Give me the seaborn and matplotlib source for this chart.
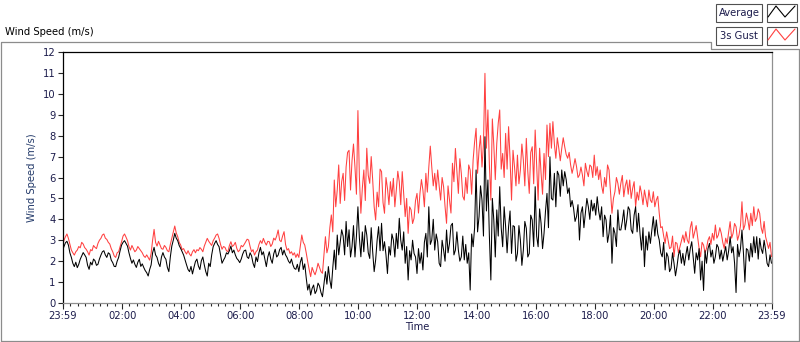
import numpy as np
import pandas as pd
import matplotlib
matplotlib.use("Agg")
import matplotlib.pyplot as plt
import matplotlib.dates as mdates
from matplotlib.lines import Line2D
from matplotlib.patches import Rectangle
import seaborn as sns

# ============================================================
# DATA
# readings on a 6-minute grid from 23:59 to 23:59 (one row per hour),
# plus the in-between readings 3 minutes later (*_MID)
# ============================================================
START = "2020-01-01 23:59"

GUST = [
    2.72, 3.17, 3.09, 2.53, 2.29, 2.53, 2.64, 2.82, 2.57, 2.29,
    2.50, 2.66, 2.85, 3.09, 3.30, 3.04, 2.82, 2.45, 2.18, 2.45,
    2.93, 3.30, 2.98, 2.53, 2.60, 2.53, 2.60, 2.40, 2.18, 2.18,
    2.37, 3.52, 2.72, 2.77, 2.57, 2.66, 2.45, 3.09, 3.68, 3.17,
    2.77, 2.60, 2.34, 2.34, 2.45, 2.40, 2.50, 2.57, 2.72, 3.09,
    2.85, 2.98, 3.25, 3.09, 2.57, 2.66, 2.45, 2.93, 2.77, 2.61,
    2.53, 2.69, 2.93, 3.01, 2.45, 2.29, 2.53, 2.98, 3.09, 2.77,
    2.93, 2.82, 3.01, 3.49, 2.93, 3.41, 2.53, 2.37, 2.29, 2.18,
    2.18, 3.25, 2.77, 1.98, 1.26, 1.50, 1.58, 1.70, 1.42, 3.17,
    2.69, 4.21, 5.88, 5.40, 4.76, 6.20, 6.50, 7.30, 6.80, 6.50,
    9.20, 4.29, 6.36, 7.40, 5.72, 5.88, 3.97, 4.60, 6.28, 4.29,
    5.48, 5.80, 5.96, 5.40, 5.80, 6.28, 4.13, 3.33, 4.45, 4.05,
    5.24, 5.24, 5.40, 6.20, 6.50, 6.50, 6.20, 6.36, 4.92, 5.56,
    3.81, 4.92, 6.68, 7.39, 5.24, 6.20, 4.92, 5.24, 6.36, 6.84,
    8.35, 7.31, 6.50, 10.98, 9.23, 4.92, 7.55, 7.63, 9.23, 7.15,
    8.11, 8.43, 4.92, 6.52, 7.07, 6.36, 6.84, 7.87, 5.24, 7.47,
    8.27, 4.92, 6.20, 7.15, 8.51, 8.59, 8.67, 6.92, 7.39, 7.39,
    7.47, 6.92, 6.60, 6.52, 6.52, 6.12, 6.12, 6.68, 6.04, 6.52,
    7.07, 6.52, 6.36, 5.24, 5.56, 6.36, 4.29, 5.32, 5.72, 5.72,
    5.08, 5.88, 5.88, 5.48, 4.60, 4.92, 5.24, 5.40, 4.60, 4.92,
    5.32, 4.92, 4.29, 3.65, 2.85, 3.01, 2.66, 2.21, 2.85, 2.69,
    3.25, 3.41, 2.85, 3.89, 3.41, 3.17, 2.21, 2.77, 2.61, 3.17,
    3.33, 3.73, 3.25, 3.33, 2.61, 2.85, 3.89, 3.33, 3.65, 3.25,
    4.84, 3.73, 3.97, 4.29, 4.60, 4.05, 4.29, 3.33, 3.17, 2.61,
    2.21,
]

GUST_MID = [
    3.00, 3.30, 2.80, 2.40, 2.45, 2.70, 2.90, 2.65, 2.45, 2.55,
    2.75, 2.60, 3.00, 3.25, 3.10, 2.90, 2.60, 2.25, 2.40, 2.70,
    3.20, 3.15, 2.70, 2.75, 2.45, 2.70, 2.50, 2.25, 2.30, 2.05,
    3.00, 2.90, 2.95, 2.60, 2.75, 2.50, 2.80, 3.40, 3.35, 2.90,
    2.55, 2.45, 2.50, 2.25, 2.55, 2.55, 2.65, 2.45, 2.90, 2.95,
    2.75, 3.10, 3.30, 2.80, 2.70, 2.50, 2.75, 2.70, 2.90, 2.45,
    2.75, 2.80, 3.05, 2.70, 2.55, 2.45, 2.80, 2.85, 2.90, 2.95,
    2.70, 3.10, 3.20, 3.00, 3.20, 2.80, 2.60, 2.45, 2.40, 2.35,
    2.70, 2.90, 2.40, 1.60, 1.70, 1.35, 1.90, 1.50, 2.30, 2.40,
    3.60, 3.40, 4.60, 6.60, 5.80, 4.90, 7.20, 5.40, 7.60, 5.20,
    6.00, 5.50, 4.90, 6.10, 7.00, 4.60, 5.30, 6.40, 4.80, 6.00,
    4.70, 5.10, 4.60, 6.30, 4.70, 5.20, 5.00, 4.60, 3.80, 4.90,
    4.30, 5.90, 4.60, 5.30, 7.50, 5.60, 5.40, 5.60, 6.00, 4.60,
    5.60, 4.30, 5.80, 6.30, 6.90, 5.10, 6.00, 6.60, 5.20, 7.70,
    6.20, 8.00, 7.60, 7.40, 6.60, 8.80, 5.90, 8.60, 6.40, 6.00,
    6.40, 6.90, 7.30, 5.60, 5.70, 7.60, 5.60, 6.30, 7.20, 5.70,
    6.60, 7.40, 5.20, 5.90, 7.00, 7.40, 7.60, 7.90, 6.80, 7.90,
    7.10, 7.20, 6.20, 6.90, 6.00, 6.50, 5.60, 6.30, 6.60, 6.00,
    6.10, 5.90, 5.60, 6.00, 6.60, 5.30, 5.00, 6.00, 5.20, 6.10,
    5.60, 5.20, 5.00, 5.80, 5.30, 5.60, 4.70, 5.00, 5.40, 4.80,
    4.60, 5.10, 3.60, 3.20, 3.40, 2.60, 3.20, 2.90, 2.40, 3.00,
    2.90, 3.00, 3.60, 3.10, 3.70, 2.60, 2.90, 2.40, 3.00, 2.80,
    3.00, 3.10, 3.60, 2.90, 3.10, 3.40, 3.10, 3.80, 3.00, 3.70,
    3.50, 4.30, 3.50, 3.70, 3.90, 4.50, 3.60, 3.90, 2.90, 2.90,
]

AVERAGE = [
    2.50, 2.88, 2.77, 2.18, 1.74, 1.69, 2.09, 2.41, 2.18, 1.61,
    1.82, 2.02, 1.85, 2.29, 2.50, 2.18, 2.34, 1.93, 1.74, 2.18,
    2.77, 2.98, 2.72, 2.13, 2.06, 1.70, 2.09, 1.87, 1.55, 1.29,
    1.82, 2.66, 2.18, 1.74, 2.41, 2.09, 1.50, 2.72, 3.33, 2.98,
    2.61, 2.29, 1.82, 1.50, 1.39, 1.98, 1.77, 2.02, 1.82, 1.29,
    1.74, 2.69, 2.98, 2.69, 1.90, 2.18, 2.34, 2.72, 2.53, 2.13,
    1.93, 2.34, 2.53, 2.13, 2.25, 1.70, 1.98, 2.66, 2.45, 1.74,
    2.45, 1.90, 2.57, 2.29, 2.66, 2.53, 2.18, 1.90, 1.82, 1.61,
    1.50, 2.18, 1.87, 0.62, 0.38, 0.86, 0.59, 0.81, 0.30, 1.50,
    1.74, 0.70, 2.53, 3.25, 2.90, 3.20, 3.90, 3.50, 2.70, 2.20,
    4.60, 2.21, 2.45, 3.25, 2.13, 2.45, 2.06, 3.65, 3.81, 2.93,
    1.41, 2.29, 3.01, 3.33, 4.05, 2.53, 1.90, 1.10, 2.06, 2.37,
    1.41, 1.90, 1.58, 3.33, 4.60, 3.01, 2.53, 2.93, 1.74, 2.53,
    3.49, 2.85, 3.81, 2.53, 2.53, 2.21, 2.06, 1.90, 0.62, 2.69,
    6.36, 4.13, 4.92, 7.95, 5.88, 1.10, 3.97, 4.45, 5.56, 2.69,
    3.65, 3.65, 2.37, 3.65, 2.37, 3.01, 2.53, 3.57, 2.37, 3.97,
    5.56, 2.69, 3.81, 3.33, 5.24, 6.99, 4.92, 4.60, 6.12, 6.36,
    6.28, 5.24, 4.60, 4.53, 4.13, 3.01, 4.60, 4.29, 4.60, 4.92,
    4.76, 5.08, 3.97, 3.17, 3.97, 3.33, 1.90, 3.33, 4.45, 3.49,
    4.45, 3.97, 4.45, 3.33, 4.60, 4.29, 2.53, 1.74, 2.53, 2.85,
    4.13, 3.97, 3.01, 2.21, 1.58, 2.21, 1.66, 1.90, 1.74, 2.53,
    2.37, 2.29, 2.06, 2.93, 1.42, 2.06, 1.10, 0.60, 1.90, 2.85,
    2.53, 2.21, 2.66, 2.53, 2.37, 2.06, 3.17, 2.69, 0.50, 2.21,
    3.49, 1.00, 2.53, 2.85, 3.17, 3.17, 3.09, 2.37, 2.53, 1.74,
    1.90,
]

AVERAGE_MID = [
    2.70, 2.95, 2.40, 1.90, 1.95, 1.85, 2.25, 2.30, 1.80, 1.95,
    2.10, 1.80, 2.10, 2.45, 2.30, 2.40, 2.05, 1.75, 2.00, 2.50,
    2.90, 2.85, 2.40, 1.90, 1.85, 1.95, 1.75, 1.70, 1.45, 1.60,
    2.40, 2.30, 1.90, 2.20, 2.20, 1.70, 2.20, 3.00, 3.10, 2.75,
    2.45, 2.05, 1.60, 1.75, 1.70, 2.10, 1.60, 2.20, 1.50, 1.90,
    2.30, 2.85, 2.80, 2.30, 2.05, 2.40, 2.50, 2.40, 2.30, 2.05,
    2.10, 2.50, 2.20, 2.40, 1.90, 2.20, 2.40, 2.30, 2.10, 2.20,
    2.10, 2.35, 2.20, 2.55, 2.30, 2.30, 2.00, 2.10, 1.65, 1.85,
    1.95, 1.60, 1.20, 0.90, 0.70, 0.45, 0.95, 0.50, 0.90, 0.90,
    1.10, 1.70, 1.60, 2.30, 3.50, 2.30, 2.70, 2.20, 3.70, 3.20,
    3.10, 3.40, 3.70, 2.40, 3.60, 1.50, 3.00, 2.50, 2.50, 2.30,
    2.70, 3.30, 2.20, 2.60, 3.00, 3.40, 2.70, 2.50, 3.00, 2.20,
    2.60, 2.40, 2.90, 2.20, 2.80, 4.00, 3.30, 1.90, 3.00, 2.00,
    2.40, 3.70, 2.30, 3.40, 2.00, 3.20, 2.80, 2.40, 3.30, 3.60,
    3.40, 5.60, 3.20, 4.40, 3.20, 5.00, 2.20, 3.20, 3.60, 4.60,
    2.40, 4.40, 3.70, 2.00, 3.70, 1.80, 3.90, 2.20, 4.20, 2.70,
    3.20, 4.50, 2.60, 4.40, 3.60, 5.00, 6.20, 6.30, 5.10, 5.60,
    5.90, 5.50, 4.90, 3.90, 4.70, 4.30, 3.60, 5.00, 4.00, 4.40,
    4.20, 4.40, 4.60, 4.20, 2.90, 4.20, 3.60, 2.70, 3.50, 3.90,
    3.50, 4.60, 3.50, 4.20, 3.40, 3.30, 3.60, 3.20, 3.40, 3.50,
    3.20, 3.30, 2.40, 2.90, 2.40, 1.50, 2.40, 1.30, 2.30, 1.90,
    1.80, 2.70, 2.60, 2.20, 2.40, 2.60, 2.00, 2.50, 2.60, 2.20,
    1.90, 2.80, 2.10, 2.00, 2.70, 2.50, 2.40, 1.90, 2.80, 2.60,
    2.40, 2.60, 2.00, 2.20, 2.40, 2.10, 2.60, 3.00, 1.90, 2.30,
]

Y_TICKS = list(range(0, 13))
X_TICK_TIMES = ["2020-01-01 23:59", "2020-01-02 02:00", "2020-01-02 04:00",
                "2020-01-02 06:00", "2020-01-02 08:00", "2020-01-02 10:00",
                "2020-01-02 12:00", "2020-01-02 14:00", "2020-01-02 16:00",
                "2020-01-02 18:00", "2020-01-02 20:00", "2020-01-02 22:00",
                "2020-01-02 23:59"]

# ============================================================
# STYLE
# ============================================================
W, H = 800, 342
RED = "#ff4040"
NAVY = "#1c1c4c"
FRAME = "#8c8c8c"
FS = 7.2

sns.set_style("white")
plt.rcParams["font.family"] = ["DejaVu Sans"]
plt.rcParams["font.size"] = FS


def fx(x):
    return x / W


def fy(y):
    return 1 - y / H


# ============================================================
# BUILD LONG TABLE
# ============================================================
t_on = pd.date_range(START, periods=len(GUST), freq="6min")
t_mid = t_on[:-1] + pd.Timedelta(minutes=3)

parts = []
for name, on, mid in [("3s Gust", GUST, GUST_MID), ("Average", AVERAGE, AVERAGE_MID)]:
    parts.append(pd.DataFrame({"Time": t_on, "speed": on, "series": name}))
    parts.append(pd.DataFrame({"Time": t_mid, "speed": mid, "series": name}))
df = pd.concat(parts).sort_values(["series", "Time"]).reset_index(drop=True)

# ============================================================
# PLOT
# ============================================================
fig = plt.figure(figsize=(W / 100, H / 100), dpi=100)
fig.patch.set_facecolor("white")

ax = fig.add_axes([fx(62.5), fy(303), (771.5 - 62.5) / W, (303 - 52) / H])
sns.lineplot(
    data=df, x="Time", y="speed", hue="series",
    hue_order=["3s Gust", "Average"],
    palette={"3s Gust": RED, "Average": "black"},
    linewidth=0.75, estimator=None, legend=False, ax=ax,
)

ax.set_xlim(t_on[0], t_on[-1])
ax.set_ylim(0, 12)
ax.set_yticks(Y_TICKS)

ax.set_xticks(pd.to_datetime(X_TICK_TIMES))
ax.xaxis.set_major_formatter(mdates.DateFormatter("%H:%M"))
ax.xaxis.set_minor_locator(mdates.MinuteLocator(byminute=[0, 15, 30, 45]))

ax.tick_params(axis="y", which="major", direction="out", length=3.5, width=0.8,
               pad=1.5, left=True, labelcolor=NAVY, labelsize=FS)
ax.tick_params(axis="x", which="major", direction="out", length=4.3, width=0.8,
               pad=1.5, bottom=True, labelcolor=NAVY, labelsize=FS)
ax.tick_params(axis="x", which="minor", direction="out", length=2.2, width=0.8,
               bottom=True)

ax.set_xlabel("Time", color=NAVY, fontsize=FS, labelpad=1)
ax.set_ylabel("Wind Speed (m/s)", color="#233a6a", fontsize=FS, labelpad=4)

for side in ["top", "left"]:
    ax.spines[side].set_color("black")
    ax.spines[side].set_linewidth(0.9)
for side in ["bottom", "right"]:
    ax.spines[side].set_color("#909090")
    ax.spines[side].set_linewidth(0.9)

# --- panel frame and title ---
px = [0.5, 0.5, 711, 711, 798.5, 798.5, 0.5]
py = [340.5, 42, 42, 49, 49, 340.5, 340.5]
fig.add_artist(Line2D([fx(v) for v in px], [fy(v) for v in py],
                      color=FRAME, linewidth=0.9))
fig.text(fx(5), fy(32), "Wind Speed (m/s)", color="black", fontsize=FS,
         ha="left", va="center")

# --- legend boxes ---
for label, color, top in [("Average", "black", 4), ("3s Gust", RED, 27)]:
    fig.add_artist(Rectangle((fx(716), fy(top + 18)), 46 / W, 18 / H,
                             facecolor="white", edgecolor="#505050", linewidth=0.8))
    fig.text(fx(739), fy(top + 9), label, color=NAVY, fontsize=FS,
             ha="center", va="center")
    fig.add_artist(Rectangle((fx(767), fy(top + 18)), 30 / W, 18 / H,
                             facecolor="white", edgecolor="#505050", linewidth=0.8))
    zx = [768, 776, 785, 795]
    zy = [top + 13, top + 2, top + 13, top + 2]
    fig.add_artist(Line2D([fx(v) for v in zx], [fy(v) for v in zy],
                          color=color, linewidth=0.8))

plt.savefig("out.png", dpi=100)
print("Saved: out.png")
